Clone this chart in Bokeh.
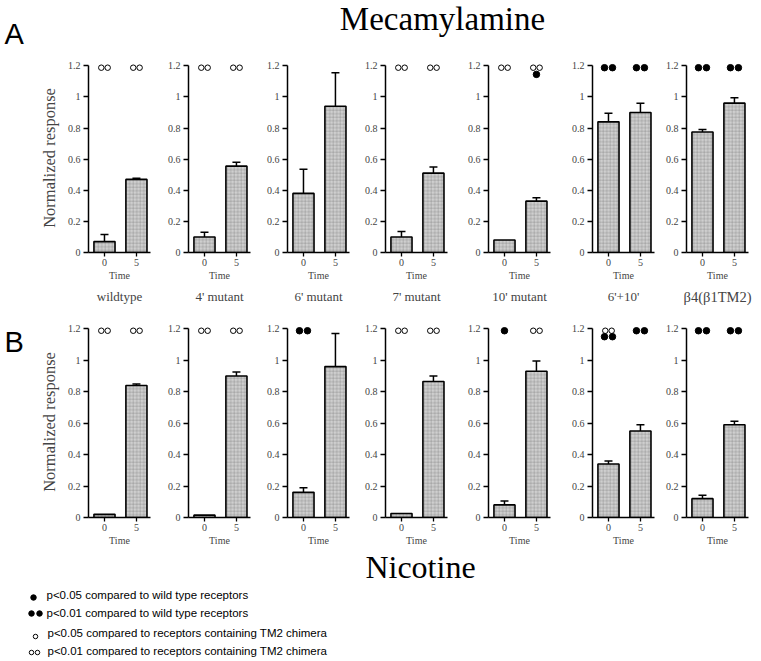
from bokeh.plotting import figure
from bokeh.layouts import column, row
from bokeh.models import (Range1d, FixedTicker, CustomJSTickFormatter, Whisker, TeeHead,
                          ColumnDataSource)
from bokeh.core.properties import value
from bokeh.embed import file_html
from bokeh.resources import INLINE

# ---------------- data ----------------
groups = ["wildtype", "4' mutant", "6' mutant", "7' mutant", "10' mutant", "6'+10'", "\u03b24(\u03b21TM2)"]
time_labels = ["0", "5"]
y_ticks = [0, 0.2, 0.4, 0.6, 0.8, 1, 1.2]

# Mecamylamine (panel A)
mec_mean_0 = [0.07, 0.10, 0.38, 0.10, 0.08, 0.84, 0.775]
mec_err_0 = [0.045, 0.03, 0.155, 0.035, 0.0, 0.055, 0.015]
mec_mean_5 = [0.47, 0.555, 0.94, 0.51, 0.33, 0.90, 0.96]
mec_err_5 = [0.008, 0.025, 0.215, 0.04, 0.022, 0.06, 0.035]
mec_sig_top_0 = ["oo", "oo", "", "oo", "oo", "**", "**"]
mec_sig_top_5 = ["oo", "oo", "", "oo", "oo", "**", "**"]
mec_sig_low_0 = ["", "", "", "", "", "", ""]
mec_sig_low_5 = ["", "", "", "", "*", "", ""]

# Nicotine (panel B)
nic_mean_0 = [0.02, 0.015, 0.16, 0.025, 0.08, 0.34, 0.12]
nic_err_0 = [0.0, 0.0, 0.03, 0.0, 0.025, 0.02, 0.022]
nic_mean_5 = [0.84, 0.90, 0.96, 0.865, 0.93, 0.55, 0.59]
nic_err_5 = [0.01, 0.025, 0.21, 0.035, 0.065, 0.04, 0.022]
nic_sig_top_0 = ["oo", "oo", "**", "oo", "*", "oo", "**"]
nic_sig_top_5 = ["oo", "oo", "", "oo", "oo", "**", "**"]
nic_sig_low_0 = ["", "", "", "", "", "**", ""]
nic_sig_low_5 = ["", "", "", "", "", "", ""]

legend_codes = ["*", "**", "o", "oo"]
legend_texts = ["p<0.05 compared to wild type receptors",
                "p<0.01 compared to wild type receptors",
                "p<0.05 compared to receptors containing TM2 chimera",
                "p<0.01 compared to receptors containing TM2 chimera"]

# ---------------- style / layout ----------------
SERIF = "Liberation Serif"
SANS = "Liberation Sans"
AX = [88, 188, 287, 385, 488, 592, 686]   # y-axis x position of each small plot
STRIP_W = 36
FRAME_W = 62
TOTAL_W = 761
BAR_FILL = "#cfcfcf"


def sig_points(code, xc, y):
    if code in ("oo", "**"):
        off = 0.1 if code == "oo" else 0.125
        xs = [xc - off, xc + off]
    elif code in ("o", "*"):
        xs = [xc]
    else:
        return [], [], False
    return xs, [y] * len(xs), ("*" in code)


def make_sub(i, m0, e0, m5, e5, t0, t5, l0, l5, frame_h, top_b, bot_b, title=None):
    left = STRIP_W if i == 0 else AX[i] - 30
    right = AX[i + 1] - 30 if i < 6 else TOTAL_W
    mbl = AX[i] - left
    mbr = right - AX[i] - FRAME_W
    p = figure(frame_width=FRAME_W, frame_height=frame_h,
               min_border_left=mbl, min_border_right=mbr,
               min_border_top=top_b, min_border_bottom=bot_b,
               x_range=Range1d(0.5, 2.44), y_range=Range1d(0, 1.215),
               output_backend="svg", toolbar_location=None, tools="")
    p.grid.visible = False
    p.outline_line_color = None

    xs = [1, 2]
    p.vbar(x=xs, top=[m0, m5], width=0.66, bottom=0,
           fill_color=BAR_FILL, line_color="black", line_width=1.6,
           hatch_pattern="+", hatch_color="#6e6e6e", hatch_scale=3.5,
           hatch_weight=0.6, hatch_alpha=0.55)

    wx, wu, wl = [], [], []
    for x, m, e in zip(xs, [m0, m5], [e0, e5]):
        if e > 0:
            wx.append(x); wu.append(m + e); wl.append(m - e)
    if wx:
        src = ColumnDataSource(dict(base=wx, upper=wu, lower=wl))
        p.add_layout(Whisker(base="base", upper="upper", lower="lower", source=src,
                             line_color="black", line_width=1.5,
                             upper_head=TeeHead(size=8, line_width=1.5, line_color="black"),
                             lower_head=TeeHead(size=8, line_width=1.5, line_color="black")))

    ox, oy, fx, fy = [], [], [], []
    for x, code, yy in [(1, t0, 1.188), (2, t5, 1.188), (1, l0, 1.15), (2, l5, 1.145)]:
        px_, py_, filled = sig_points(code, x, yy)
        if filled:
            fx += px_; fy += py_
        else:
            ox += px_; oy += py_
    if ox:
        p.scatter(ox, oy, marker="circle", size=5.5, fill_color="white",
                  line_color="black", line_width=1)
    if fx:
        p.scatter(fx, fy, marker="circle", size=6.5, fill_color="black", line_color="black")

    xa = p.xaxis[0]
    xa.ticker = FixedTicker(ticks=[1, 2])
    xa.formatter = CustomJSTickFormatter(args=dict(labels=time_labels),
                                         code="return labels[Math.round(tick) - 1];")
    xa.minor_tick_line_color = None
    xa.major_tick_out = 4
    xa.major_tick_in = 0
    xa.axis_line_width = 1.5
    xa.major_tick_line_width = 1.3
    xa.major_label_text_font = SERIF
    xa.major_label_text_font_size = "10px"
    xa.major_label_standoff = 2
    xa.axis_label = "Time"
    xa.axis_label_text_font = SERIF
    xa.axis_label_text_font_size = "10px"
    xa.axis_label_text_font_style = "normal"
    xa.axis_label_standoff = 1

    ya = p.yaxis[0]
    ya.ticker = FixedTicker(ticks=y_ticks)
    ya.formatter = CustomJSTickFormatter(code="return String(tick);")
    ya.bounds = (0, 1.2)
    ya.minor_tick_line_color = None
    ya.major_tick_out = 5
    ya.major_tick_in = 0
    ya.axis_line_width = 1.5
    ya.major_tick_line_width = 1.3
    ya.major_label_text_font = SERIF
    ya.major_label_text_font_size = "10px"
    ya.major_label_standoff = 3
    if i == 0:
        ya.axis_label = "Normalized response"
        ya.axis_label_text_font = SERIF
        ya.axis_label_text_font_size = "16.5px"
        ya.axis_label_text_font_style = "normal"
        ya.axis_label_standoff = 6

    if title is not None:
        p.title.text = title
        p.title_location = "below"
        p.title.align = "center"
        p.title.text_font = SERIF
        p.title.text_font_size = "14.5px" if i == 6 else "13px"
        p.title.text_font_style = "normal"
        p.title.standoff = 6
    return p


def blank(w, h):
    f = figure(width=w, height=h, x_range=Range1d(0, w), y_range=Range1d(h, 0),
               min_border=0, x_axis_location=None, y_axis_location=None,
               output_backend="svg", toolbar_location=None, tools="")
    f.grid.visible = False
    f.outline_line_color = None
    return f


# geometry of the two rows
HEADER_H = 55
A_TOP, A_FRAME, A_BOT = 8, 189, 57
B_TOP, B_FRAME, B_BOT = 17, 191, 31
A_H = A_TOP + A_FRAME + A_BOT
B_H = B_TOP + B_FRAME + B_BOT
FOOTER_H = 661 - HEADER_H - A_H - B_H

rowA = []
for i in range(7):
    rowA.append(make_sub(i, mec_mean_0[i], mec_err_0[i], mec_mean_5[i], mec_err_5[i],
                         mec_sig_top_0[i], mec_sig_top_5[i], mec_sig_low_0[i], mec_sig_low_5[i],
                         frame_h=A_FRAME, top_b=A_TOP, bot_b=A_BOT, title=groups[i]))
rowB = []
for i in range(7):
    rowB.append(make_sub(i, nic_mean_0[i], nic_err_0[i], nic_mean_5[i], nic_err_5[i],
                         nic_sig_top_0[i], nic_sig_top_5[i], nic_sig_low_0[i], nic_sig_low_5[i],
                         frame_h=B_FRAME, top_b=B_TOP, bot_b=B_BOT, title=None))

stripA = blank(STRIP_W, A_H)
stripB = blank(STRIP_W, B_H)
stripB.text(x=[4], y=[20], text=["B"], text_font=value(SANS), text_font_size="29px",
            text_baseline="middle", text_color="black")

header = blank(TOTAL_W, HEADER_H)
header.text(x=[4], y=[33], text=["A"], text_font=value(SANS), text_font_size="29px",
            text_baseline="middle", text_color="black")
header.text(x=[442], y=[18], text=["Mecamylamine"], text_font=value(SERIF),
            text_font_size="33px", text_align="center", text_baseline="middle",
            text_color="black")

footer = blank(TOTAL_W, FOOTER_H)
footer.text(x=[420], y=[18], text=["Nicotine"], text_font=value(SERIF),
            text_font_size="32px", text_align="center", text_baseline="middle",
            text_color="black")
leg_y = [46, 64, 84, 102]
leg_x = [46, 46, 47, 47]
footer.text(x=leg_x, y=leg_y, text=legend_texts, text_font=value(SANS),
            text_font_size="11.5px", text_baseline="middle", text_color="black")
fx, fy, ox, oy = [], [], [], []
for code, yy in zip(legend_codes, leg_y):
    if code == "*":
        fx += [33]; fy += [yy + 3]
    elif code == "**":
        fx += [31, 39]; fy += [yy + 1, yy + 1]
    elif code == "o":
        ox += [35]; oy += [yy + 4]
    else:
        ox += [31, 37]; oy += [yy + 2, yy + 2]
footer.scatter(fx, fy, marker="circle", size=5.5, fill_color="black", line_color="black")
footer.scatter(ox, oy, marker="circle", size=4.5, fill_color="white", line_color="black", line_width=1)

layout = column(header,
                row(stripA, *rowA, spacing=0),
                row(stripB, *rowB, spacing=0),
                footer, spacing=0)
open("out.html", "w").write(file_html(layout, INLINE))
